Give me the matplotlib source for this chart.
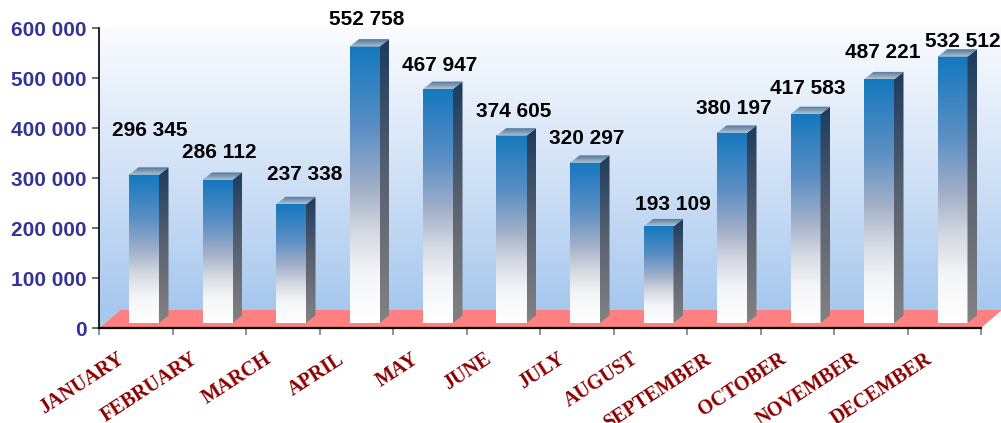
import numpy as np
import matplotlib.pyplot as plt
from matplotlib.colors import LinearSegmentedColormap
from matplotlib.patches import Polygon
import matplotlib.transforms as mtransforms

# datos
meses = ['JANUARY', 'FEBRUARY', 'MARCH', 'APRIL', 'MAY', 'JUNE', 'JULY',
         'AUGUST', 'SEPTEMBER', 'OCTOBER', 'NOVEMBER', 'DECEMBER']
valores = [296345, 286112, 237338, 552758, 467947, 374605, 320297,
           193109, 380197, 417583, 487221, 532512]
marcas_y = [0, 100000, 200000, 300000, 400000, 500000, 600000]

# pequeños ajustes (pixeles) de las etiquetas de valor
ajuste_x = [4, 0, 12, 0, 0, 0, 0, 12, 0, 0, 2, 8]
ajuste_y = [19, 2, 5, 2, -1, -1, -1, -3, -1, 1, 2, -10]


def miles(v):
    return f'{v:,}'.replace(',', ' ')


fig = plt.figure(figsize=(10.01, 4.23), dpi=100)
ax = fig.add_axes([99 / 1001, (423 - 328) / 423, 882 / 1001, 300 / 423])

PX = 12 / 882        # unidades x por pixel
PY = 600000 / 300    # unidades y por pixel

cm_pared = LinearSegmentedColormap.from_list('pared', ['#a6c8ee', '#d2e2f6', '#fafcff'])
cm_frente = LinearSegmentedColormap.from_list(
    'frente', [(0, '#ffffff'), (0.18, '#f4f5f8'), (0.33, '#d4d8e0'),
               (0.48, '#a3b1c8'), (0.7, '#5b8fc4'), (1, '#1478be')])
cm_lado = LinearSegmentedColormap.from_list('lado', ['#828282', '#5a6270', '#1c3c5e'])
cm_tapa = LinearSegmentedColormap.from_list('tapa', ['#b4c4d2', '#7f9bb6', '#4d7699'])

g = np.linspace(0, 1, 256).reshape(-1, 1)


def degradado(cmap, extent, clip=None, z=2, fuera=False):
    im = ax.imshow(g, cmap=cmap, extent=extent, origin='lower', aspect='auto',
                   interpolation='bilinear', zorder=z)
    if fuera:
        im.set_clip_on(False)
    if clip is not None:
        im.set_clip_path(clip)
    return im


# pared y piso
fondo_dx = 21 * PX
fondo_dy = 18 * PY
degradado(cm_pared, [0, 12 + fondo_dx, fondo_dy, 600000], z=0, fuera=True)
ax.add_patch(Polygon([(0, 0), (12, 0), (12 + fondo_dx, fondo_dy), (fondo_dx, fondo_dy)],
                     closed=True, facecolor='#ff8080', edgecolor='none',
                     zorder=1, clip_on=False))
ax.add_patch(Polygon([(0, 0), (fondo_dx, fondo_dy), (0, fondo_dy)], closed=True,
                     facecolor='#a6c8ee', edgecolor='none', zorder=1, clip_on=False))

# barras 3d
base = 5 * PY
ddx = 9.5 * PX
ddy = 7.5 * PY
for i, v in enumerate(valores):
    x0 = i + 30 * PX
    x1 = x0 + 30 * PX
    y1 = base + v
    degradado(cm_frente, [x0, x1, base, y1], z=3)

    lado = Polygon([(x1, base), (x1 + ddx, base + ddy), (x1 + ddx, y1 + ddy), (x1, y1)],
                   closed=True, facecolor='none', edgecolor='none',
                   transform=ax.transData)
    ax.add_patch(lado)
    degradado(cm_lado, [x1, x1 + ddx, base, y1 + ddy], clip=lado, z=3)

    tapa = Polygon([(x0, y1), (x1, y1), (x1 + ddx, y1 + ddy), (x0 + ddx, y1 + ddy)],
                   closed=True, facecolor='none', edgecolor='none',
                   transform=ax.transData)
    ax.add_patch(tapa)
    degradado(cm_tapa, [x0, x1 + ddx, y1, y1 + ddy], clip=tapa, z=3)

    ax.annotate(miles(v), xy=(x0 + 15 * PX, y1), xytext=(2 + ajuste_x[i], 25 + ajuste_y[i]),
                textcoords='offset pixels', ha='center', va='center',
                fontsize=15, fontweight='bold', family='Liberation Sans',
                color='black', zorder=6, annotation_clip=False)

ax.set_xlim(0, 12)
ax.set_ylim(0, 600000)

# ejes
ax.set_yticks(marcas_y, labels=[miles(t) for t in marcas_y])
for t in ax.get_yticklabels():
    t.set_fontweight('bold')
    t.set_family('Liberation Sans')
ax.tick_params(axis='y', direction='out', length=5, width=1.2, color='#555555',
               labelcolor='#333399', labelsize=15, pad=4)
ax.set_xticks(range(13), labels=[''] * 13)
ax.tick_params(axis='x', direction='out', length=5, width=1.2, color='#7f7f7f')

for lado_eje in ['top', 'right']:
    ax.spines[lado_eje].set_visible(False)
ax.spines['left'].set_linewidth(1.2)
ax.spines['bottom'].set_linewidth(1.6)
ax.spines['left'].set_zorder(5)
ax.spines['bottom'].set_zorder(5)

trans = mtransforms.blended_transform_factory(ax.transData, ax.transAxes)
for i, m in enumerate(meses):
    ax.text(i + 0.5 - 8 * PX, -21 / 300, m, transform=trans, ha='right', va='top',
            rotation=33, family='Liberation Serif', fontweight='bold',
            fontsize=14.5, color='#8b0000')

fig.savefig('out.png', dpi=100)
